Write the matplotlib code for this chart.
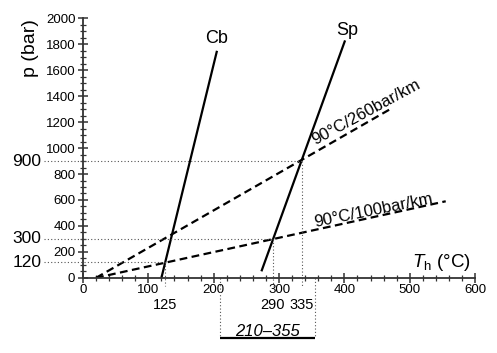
import matplotlib
matplotlib.use('Agg')
import matplotlib.pyplot as plt
from matplotlib.ticker import MultipleLocator

plt.rcParams['font.family'] = ['Liberation Sans', 'DejaVu Sans']
plt.rcParams['mathtext.fontset'] = 'custom'
plt.rcParams['mathtext.it'] = 'Liberation Sans:italic'
plt.rcParams['mathtext.rm'] = 'Liberation Sans'

# isochores (T_h in °C, p in bar)
cb_T = [120, 205]
cb_p = [0, 1750]
sp_T = [273, 401]
sp_p = [50, 1830]

# geothermal/pressure gradients
g260_T = [20, 470]
g260_p = [0, 1300]
g100_T = [20, 555]
g100_p = [0, 590]

# marked values
p_marks = [900, 300, 120]
p_mark_T = [335, 290, 125]
T_range = [210, 355]

fig = plt.figure(figsize=(4.97, 3.53), dpi=100)
ax = fig.add_axes([0.167, 0.213, 0.789, 0.735])

ax.plot(cb_T, cb_p, color='black', lw=1.6, solid_capstyle='butt')
ax.plot(sp_T, sp_p, color='black', lw=1.6, solid_capstyle='butt')
ax.plot(g260_T, g260_p, color='black', lw=1.6, ls=(0, (3.5, 2)))
ax.plot(g100_T, g100_p, color='black', lw=1.6, ls=(0, (3.5, 2)))

dot = dict(color='#555555', lw=0.8, ls=(0, (1, 2)), clip_on=False)
for p, t in zip(p_marks, p_mark_T):
    ax.plot([-60, t], [p, p], **dot)
    ax.plot([t, t], [p, -65], **dot)
    ax.text(-64, p, str(p), ha='right', va='center', fontsize=12.5)
for t in T_range:
    ax.plot([t, t], [0, -465], **dot)
ax.plot(T_range, [-465, -465], color='black', lw=1.6, clip_on=False,
        solid_capstyle='butt')
ax.text(sum(T_range) / 2, -445, '%d\u2013%d' % tuple(T_range),
        ha='center', va='baseline', fontsize=12, style='italic')
ax.text(125, -210, '125', ha='center', va='center', fontsize=10.5)
ax.text(290, -210, '290', ha='center', va='center', fontsize=10.5)
ax.text(335, -210, '335', ha='center', va='center', fontsize=10.5)

ax.text(204, 1848, 'Cb', ha='center', va='center', fontsize=13)
ax.text(404, 1910, 'Sp', ha='center', va='center', fontsize=13)
ax.text(355, 1020, '90°C/260bar/km', rotation=28.5, rotation_mode='anchor',
        ha='left', va='baseline', fontsize=12)
ax.text(355, 390, '90°C/100bar/km', rotation=11.5, rotation_mode='anchor',
        ha='left', va='baseline', fontsize=12)

ax.text(593, 85, r'$T_{\mathrm{h}}$ (°C)', ha='right', va='baseline', fontsize=13.5)
ax.text(-81, 1770, 'p (bar)', rotation=90, ha='center', va='center',
        fontsize=14)

ax.set_xlim(0, 600)
ax.set_ylim(0, 2000)
ax.xaxis.set_major_locator(MultipleLocator(100))
ax.xaxis.set_minor_locator(MultipleLocator(20))
ax.yaxis.set_major_locator(MultipleLocator(200))
ax.yaxis.set_minor_locator(MultipleLocator(50))
for s in ['top', 'right']:
    ax.spines[s].set_visible(False)
for s in ['left', 'bottom']:
    ax.spines[s].set_linewidth(1.3)
    ax.spines[s].set_color('#333333')
ax.tick_params(which='major', direction='inout', length=7, width=1.1,
               color='#333333', labelsize=9.5, pad=2)
ax.tick_params(which='minor', direction='inout', length=4, width=0.9,
               color='#333333')
ax.tick_params(axis='x', pad=1)

fig.savefig('out.png', dpi=100)
